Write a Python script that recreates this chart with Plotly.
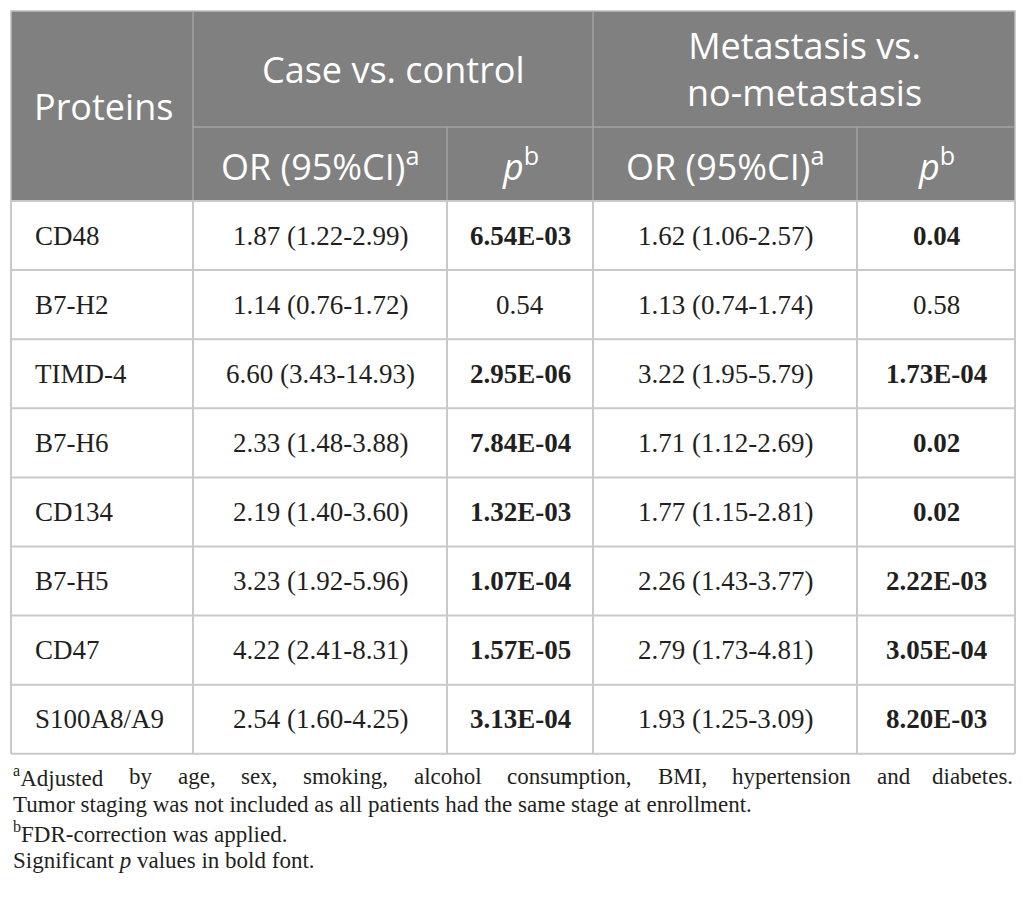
import plotly.graph_objects as go

# table content
proteins = ["CD48", "B7-H2", "TIMD-4", "B7-H6", "CD134", "B7-H5", "CD47", "S100A8/A9"]

case_or = [1.87, 1.14, 6.60, 2.33, 2.19, 3.23, 4.22, 2.54]
case_lo = [1.22, 0.76, 3.43, 1.48, 1.40, 1.92, 2.41, 1.60]
case_hi = [2.99, 1.72, 14.93, 3.88, 3.60, 5.96, 8.31, 4.25]
case_p = [6.54e-03, 0.54, 2.95e-06, 7.84e-04, 1.32e-03, 1.07e-04, 1.57e-05, 3.13e-04]

meta_or = [1.62, 1.13, 3.22, 1.71, 1.77, 2.26, 2.79, 1.93]
meta_lo = [1.06, 0.74, 1.95, 1.12, 1.15, 1.43, 1.73, 1.25]
meta_hi = [2.57, 1.74, 5.79, 2.69, 2.81, 3.77, 4.81, 3.09]
meta_p = [0.04, 0.58, 1.73e-04, 0.02, 0.02, 2.22e-03, 3.05e-04, 8.20e-03]

footnote_a = "Adjusted by age, sex, smoking, alcohol consumption, BMI, hypertension and diabetes."
footnote_lines = [
    "Tumor staging was not included as all patients had the same stage at enrollment.",
    "<sup>b</sup>FDR-correction was applied.",
    "Significant <i>p</i> values in bold font.",
]

# geometry (pixels)
W, H = 1026, 913
cols = [11, 193, 447, 593, 857, 1015]
head_top, head_mid, head_bot = 11, 127, 201
row_h = 69.1

HEAD_BG = "#808080"
HEAD_LINE = "#a3a3a3"
GRID = "#c9c9c9"
SANS = "Open Sans"
SERIF = "Liberation Serif"

# rough Times widths (per em) for justifying the first footnote line
TW = {c: 0.5 for c in "bdghknopquvxy"}
TW.update({"a": 0.444, "c": 0.444, "e": 0.444, "z": 0.444, "f": 0.333, "r": 0.333,
           "i": 0.278, "j": 0.278, "l": 0.278, "t": 0.278, "s": 0.389, "m": 0.778,
           "w": 0.722, ",": 0.25, ".": 0.25, "A": 0.722, "B": 0.667, "I": 0.333, "M": 0.889})


def fmt_or(o, lo, hi):
    return f"{o:.2f} ({lo:.2f}-{hi:.2f})"


def fmt_p(p):
    s = f"{p:.2E}" if p < 0.01 else f"{p:.2f}"
    return f"<b>{s}</b>" if p < 0.05 else s


fig = go.Figure()
shapes = []
ann = []

# header block
shapes.append(dict(type="rect", x0=cols[0], x1=cols[-1], y0=head_top, y1=head_bot,
                   fillcolor=HEAD_BG, line=dict(color="#bdbdbd", width=1.5), layer="below"))
for x, y0 in [(cols[1], head_top), (cols[2], head_mid), (cols[3], head_top), (cols[4], head_mid)]:
    shapes.append(dict(type="line", x0=x, x1=x, y0=y0, y1=head_bot, line=dict(color=HEAD_LINE, width=1.5)))
shapes.append(dict(type="line", x0=cols[1], x1=cols[-1], y0=head_mid, y1=head_mid,
                   line=dict(color=HEAD_LINE, width=1.5)))

hfont = dict(family=SANS, size=36, color="white")
ann.append(dict(x=32, y=(head_top + head_bot) / 2, text="Proteins", xanchor="left", font=hfont))
ann.append(dict(x=(cols[1] + cols[3]) / 2, y=(head_top + head_mid) / 2, text="Case vs. control", font=hfont))
ann.append(dict(x=(cols[3] + cols[5]) / 2, y=(head_top + head_mid) / 2,
                text="Metastasis vs.<br>no-metastasis", font=hfont))
sub_heads = ["OR (95%CI)<sup>a</sup>", "<i>p</i><sup>b</sup>", "OR (95%CI)<sup>a</sup>", "<i>p</i><sup>b</sup>"]
for i, t in enumerate(sub_heads):
    ann.append(dict(x=(cols[i + 1] + cols[i + 2]) / 2, y=(head_mid + head_bot) / 2, text=t, font=hfont))

# body
n = len(proteins)
body_bot = head_bot + n * row_h
for i in range(n + 1):
    y = head_bot + i * row_h
    shapes.append(dict(type="line", x0=cols[0], x1=cols[-1], y0=y, y1=y, line=dict(color=GRID, width=2)))
for x in cols:
    shapes.append(dict(type="line", x0=x, x1=x, y0=head_bot, y1=body_bot, line=dict(color=GRID, width=2)))

bfont = dict(family=SERIF, size=27, color="#231f20")
for i in range(n):
    yc = head_bot + (i + 0.5) * row_h
    cells = [
        fmt_or(case_or[i], case_lo[i], case_hi[i]),
        fmt_p(case_p[i]),
        fmt_or(meta_or[i], meta_lo[i], meta_hi[i]),
        fmt_p(meta_p[i]),
    ]
    ann.append(dict(x=33, y=yc, text=proteins[i], xanchor="left", font=bfont))
    for j, t in enumerate(cells):
        ann.append(dict(x=(cols[j + 1] + cols[j + 2]) / 2, y=yc, text=t, font=bfont))

# footnotes; first line justified across the table width
fsize = 23
ffont = dict(family=SERIF, size=fsize, color="#231f20")
line_gap = 28
y0 = body_bot + 23
words = footnote_a.split(" ")
wid = [sum(TW.get(c, 0.5) for c in w) * fsize for w in words]
wid[0] += 0.444 * fsize * 0.7  # superscript a
gap = (cols[-1] - cols[0] - sum(wid)) / (len(words) - 1)
x = cols[0]
for k, w in enumerate(words):
    t = ("<sup>a</sup>" + w) if k == 0 else w
    if k == len(words) - 1:
        ann.append(dict(x=cols[-1], y=y0, text=t, xanchor="right", font=ffont))
    else:
        ann.append(dict(x=x, y=y0, text=t, xanchor="left", font=ffont))
    x += wid[k] + gap
for k, t in enumerate(footnote_lines):
    ann.append(dict(x=cols[0], y=y0 + (k + 1) * line_gap, text=t, xanchor="left", font=ffont))

for a in ann:
    a.setdefault("xanchor", "center")
    a.update(xref="x", yref="y", yanchor="middle", showarrow=False)

fig.update_layout(
    width=W, height=H,
    margin=dict(l=0, r=0, t=0, b=0),
    paper_bgcolor="white", plot_bgcolor="white",
    xaxis=dict(range=[0, W], visible=False, fixedrange=True),
    yaxis=dict(range=[H, 0], visible=False, fixedrange=True),
    shapes=shapes, annotations=ann, showlegend=False,
)

fig.write_html("out.html", config={"displayModeBar": False},
               post_script="document.body.style.margin='0';")
